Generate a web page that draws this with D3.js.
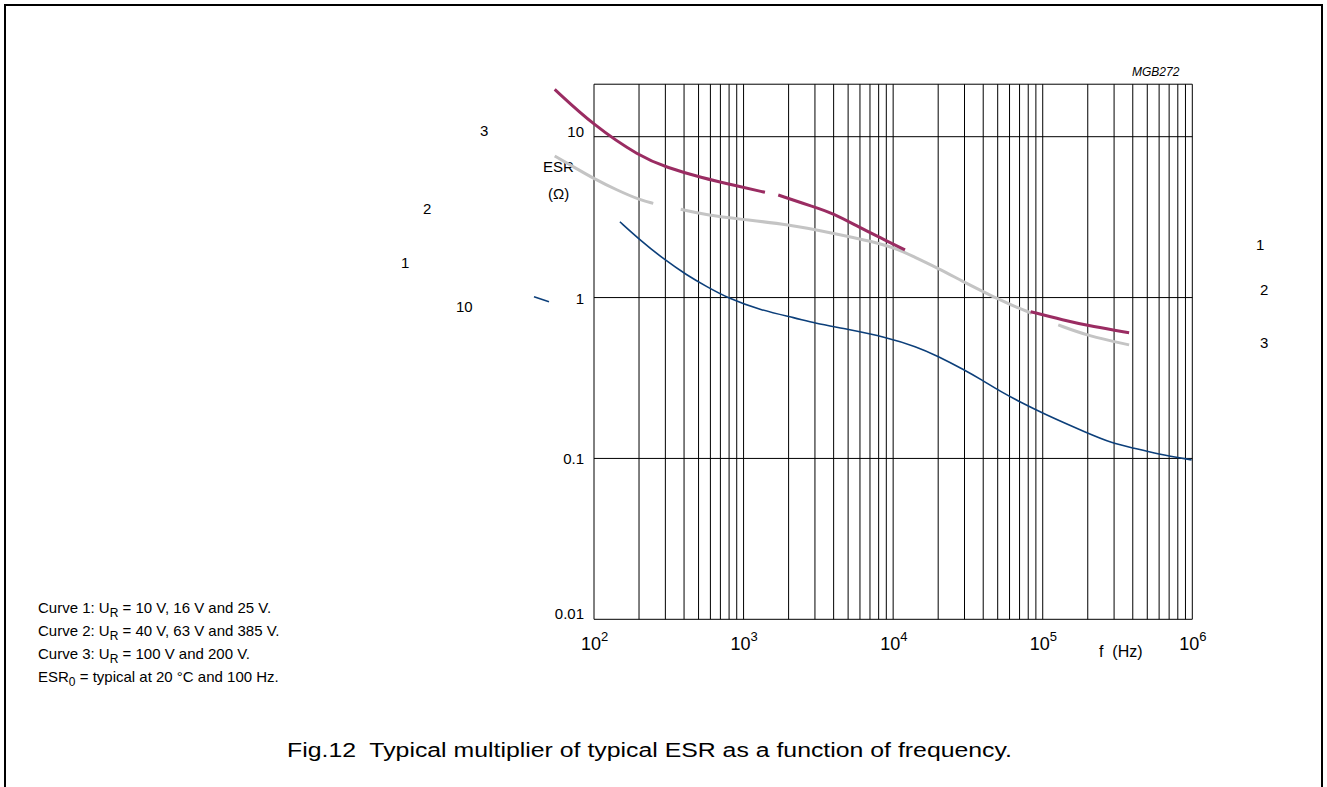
<!DOCTYPE html>
<html><head><meta charset="utf-8">
<script src="https://cdn.jsdelivr.net/npm/d3@7"></script>
<style>
html,body{margin:0;padding:0;background:#fff;}
svg{display:block;font-family:"Liberation Sans",Arial,sans-serif;}
text{white-space:pre;}
</style></head>
<body><svg id="c" width="1327" height="787"></svg>
<script>
// ---- data ----
const xDecades = [2, 3, 4, 5, 6];             // 10^k tick labels
const yTickValues = [10, 1, 0.1, 0.01];
const yTickLabels = ["10", "1", "0.1", "0.01"];
const yTop = 21.2;                             // top edge of the grid
// Curve 3 (U_R = 100 V and 200 V) - three pieces
const curve3 = [
  [[54.6,19.7],[99,11.8],[203,7.51],[306,6.45],[511,5.59],[946,4.89],[1390,4.51]],
  [[1706,4.34],[2924,3.67],[3981,3.34],[5998,2.72],[8166,2.36],[12000,1.98]],
  [[83000,0.817],[136000,0.726],[217000,0.659],[378000,0.605]]
];
// Curve 2 (U_R = 40 V, 63 V and 385 V)
const curve2 = [
  [[54.6,7.59],[72.7,6.51],[99,5.51],[142,4.66],[203,4.04],[249,3.85]],
  [[380,3.54],[566,3.26],[946,3.07],[1990,2.85],[3981,2.51],[7362,2.23],[11100,1.98],[13600,1.80],
   [20000,1.52],[29420,1.256],[40000,1.089],[49200,0.99],[63500,0.887],[84300,0.799]],
  [[127000,0.676],[201000,0.577],[378000,0.508]]
];
// Curve 1 (U_R = 10 V, 16 V and 25 V)
const curve1 = [
  [[39.7,1.013],[50,0.943]],
  [[149,2.96],[203,2.28],[298,1.71],[417,1.38],[566,1.17],[790,0.99],[1288,0.837],[2265,0.744],
   [2942,0.695],[4990,0.635],[8953,0.567],[14380,0.495],[19750,0.434],[29970,0.355],[39050,0.308],
   [52400,0.260],[70200,0.225],[99800,0.191],[202000,0.143],[288000,0.125],[409000,0.1157],
   [582000,0.1066],[989000,0.098]]
];
const legendLines = [
  ["Curve 1: U", "R", " = 10 V, 16 V and 25 V."],
  ["Curve 2: U", "R", " = 40 V, 63 V and 385 V."],
  ["Curve 3: U", "R", " = 100 V and 200 V."],
  ["ESR", "0", " = typical at 20 \u00B0C and 100 Hz."]
];
const title = "Fig.12  Typical multiplier of typical ESR as a function of frequency.";

// ---- drawing ----
const svg = d3.select("#c");
const x = d3.scaleLog().domain([100, 1e6]).range([594, 1192.3]);
const y = d3.scaleLog().domain([0.01, 10]).range([619.3, 136.7]);

// frame
svg.append("path").attr("d","M5,787 V5 H1322 V787").attr("fill","none").attr("stroke","#000").attr("stroke-width",2);

const g = svg.append("g");
// vertical grid: every 1..9 x 10^k
const vVals = [];
for (let k = 2; k <= 5; k++) for (let m = 1; m <= 9; m++) vVals.push(m * Math.pow(10, k));
vVals.push(1e6);
g.selectAll("line.v").data(vVals).join("line")
  .attr("x1", d => x(d)).attr("x2", d => x(d))
  .attr("y1", y(yTop)).attr("y2", y(0.01))
  .attr("stroke", "#000").attr("stroke-width", 1);
// horizontal grid
g.selectAll("line.h").data([yTop].concat(yTickValues)).join("line")
  .attr("x1", x(100)).attr("x2", x(1e6))
  .attr("y1", d => y(d)).attr("y2", d => y(d))
  .attr("stroke", "#000").attr("stroke-width", 1);

// y tick labels
const yOff = {10: -5, 1: 1, 0.1: 0, 0.01: -6};
g.selectAll("text.yt").data(yTickValues).join("text")
  .attr("x", 584).attr("y", d => y(d) + yOff[d])
  .attr("dy", "0.35em").attr("text-anchor", "end")
  .attr("font-size", 15).text((d, i) => yTickLabels[i]);

// x tick labels
xDecades.forEach(k => {
  const t = g.append("text").attr("x", x(Math.pow(10, k)) - 13).attr("y", 650)
    .attr("font-size", 18);
  t.append("tspan").text("10");
  t.append("tspan").attr("dy", -9).attr("font-size", 13).text(k);
});
g.append("text").attr("x", 1099).attr("y", 657).attr("font-size", 16).text("f  (Hz)");

// axis title
g.append("text").attr("x", 543).attr("y", 172).attr("font-size", 15).text("ESR");
g.append("text").attr("x", 548).attr("y", 199).attr("font-size", 15).text("(\u03A9)");
g.append("text").attr("x", 1132).attr("y", 76).attr("font-size", 12).attr("font-style", "italic").text("MGB272");

// curves
const line = d3.line().x(d => x(d[0])).y(d => y(d[1])).curve(d3.curveBasis);
function draw(pieces, color, w) {
  svg.append("g").selectAll("path").data(pieces).join("path")
    .attr("d", line).attr("fill", "none").attr("stroke", color)
    .attr("stroke-width", w).attr("stroke-linecap", "butt");
}
draw(curve2, "#c4c4c4", 3);
draw(curve3, "#9a2c62", 3);
draw(curve1, "#0c3f7a", 1.6);

// stray curve labels
const stray = [["3",480,136],["2",423,214],["1",401,268],["10",456,312],["1",1256,250],["2",1260,295],["3",1260,348]];
svg.selectAll("text.s").data(stray).join("text")
  .attr("x", d => d[1]).attr("y", d => d[2]).attr("font-size", 15).text(d => d[0]);

// legend
legendLines.forEach((L, i) => {
  const t = svg.append("text").attr("x", 38).attr("y", 613 + i * 23).attr("font-size", 15);
  t.append("tspan").text(L[0]);
  t.append("tspan").attr("dy", 4).attr("font-size", 12).text(L[1]);
  t.append("tspan").attr("dy", -4).text(L[2]);
});

// caption
svg.append("text").attr("x", 287).attr("y", 757).attr("font-size", 20)
  .attr("textLength", 725).attr("lengthAdjust", "spacingAndGlyphs").text(title);
</script></body></html>
